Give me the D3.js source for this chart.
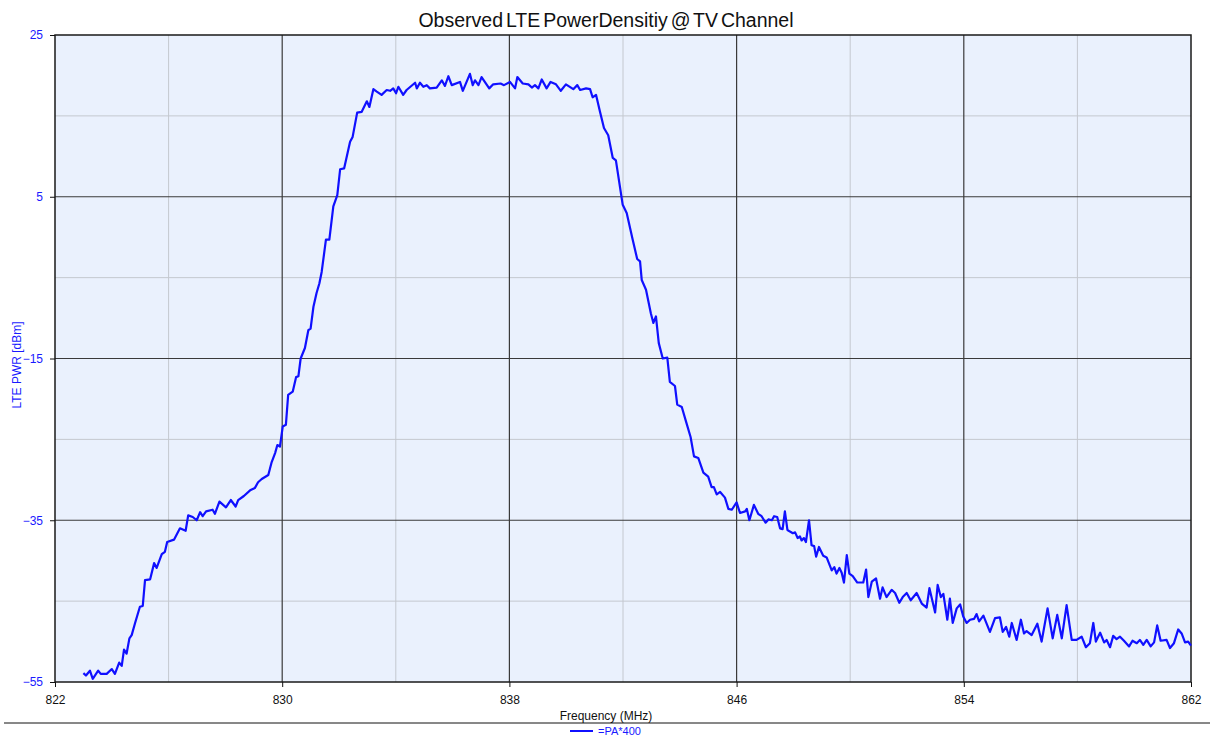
<!DOCTYPE html>
<html>
<head>
<meta charset="utf-8">
<script src="https://cdn.jsdelivr.net/npm/d3@7"></script>
<style>
  html, body { margin: 0; padding: 0; background: #fff; }
  svg { display: block; font-family: "Liberation Sans", Arial, sans-serif; }
</style>
</head>
<body>
<svg id="chart" width="1210" height="736"></svg>
<script>
const title = "Observed LTE PowerDensitiy @ TV Channel";
const xLabel = "Frequency (MHz)";
const yLabel = "LTE PWR [dBm]";
const seriesName = "=PA*400";
const xTicks = [822, 830, 838, 846, 854, 862];
const xMinorTicks = [826, 834, 842, 850, 858];
const yTicks = [25, 5, -15, -35, -55];
const yMinorTicks = [15, -5, -25, -45];

const freq = [
823.00,823.09,823.23,823.33,823.52,823.61,823.82,824.00,824.11,824.26,824.35,824.43,824.52,824.62,824.70,824.82,824.99,825.09,825.17,825.35,
825.49,825.58,825.76,825.87,825.95,826.19,826.40,826.60,826.69,826.85,826.99,827.11,827.20,827.32,827.55,827.63,827.79,828.02,828.19,828.36,
828.45,828.65,828.87,829.04,829.15,829.28,829.51,829.63,829.75,829.83,829.92,830.02,830.13,830.21,830.37,830.49,830.57,830.65,830.80,830.92,
831.00,831.10,831.21,831.31,831.39,831.54,831.66,831.80,831.94,832.04,832.18,832.39,832.48,832.64,832.80,832.98,833.07,833.21,833.33,833.50,
833.68,833.80,833.91,834.01,834.09,834.26,834.38,834.68,834.74,834.85,834.97,835.09,835.20,835.44,835.62,835.73,835.85,835.97,836.26,836.36,
836.61,836.71,836.79,836.91,837.02,837.29,837.43,837.69,837.81,838.02,838.20,838.28,838.47,838.67,838.79,838.90,839.02,839.14,839.31,839.45,
839.64,839.81,839.99,840.25,840.39,840.49,840.70,840.84,840.93,841.05,841.19,841.33,841.48,841.64,841.75,841.99,842.13,842.34,842.50,842.60,
842.66,842.81,842.98,843.07,843.16,843.26,843.40,843.56,843.65,843.83,843.91,844.07,844.22,844.38,844.50,844.65,844.83,845.00,845.12,845.20,
845.30,845.42,845.59,845.71,845.83,846.00,846.12,846.30,846.36,846.45,846.61,846.76,846.88,847.02,847.12,847.24,847.32,847.43,847.53,847.62,
847.70,847.79,847.88,847.98,848.06,848.15,848.23,848.29,848.37,848.44,848.55,848.64,848.73,848.80,848.90,849.05,849.17,849.35,849.44,849.52,
849.62,849.70,849.78,849.88,849.97,850.09,850.25,850.46,850.56,850.64,850.76,850.91,851.05,851.14,851.28,851.46,851.58,851.73,851.85,851.99,
852.13,852.34,852.52,852.69,852.79,852.99,853.08,853.19,853.28,853.42,853.51,853.61,853.75,853.87,853.98,854.10,854.22,854.36,854.45,854.54,
854.69,854.92,855.10,855.27,855.37,855.49,855.60,855.69,855.86,856.01,856.12,856.21,856.39,856.59,856.74,856.95,857.13,857.29,857.45,857.62,
857.80,857.97,858.15,858.30,858.44,858.56,858.65,858.80,858.94,859.03,859.15,859.26,859.38,859.50,859.64,859.82,859.94,860.09,860.20,860.32,
860.44,860.58,860.70,860.81,860.93,861.14,861.26,861.40,861.55,861.67,861.79,861.90,862.00
];
const power = [
-53.9,-54.2,-53.6,-54.6,-53.6,-54.0,-54.0,-53.4,-54.0,-52.6,-53.0,-51.0,-51.5,-49.6,-49.2,-47.7,-45.7,-45.6,-42.4,-42.3,
-40.3,-40.9,-39.2,-38.9,-37.7,-37.4,-36.0,-36.3,-34.4,-34.6,-35.0,-34.0,-34.5,-33.9,-33.7,-34.2,-32.7,-33.4,-32.5,-33.3,
-32.5,-32.0,-31.3,-31.0,-30.3,-29.9,-29.4,-27.8,-26.7,-25.7,-25.9,-23.4,-23.2,-19.5,-19.1,-17.3,-17.2,-15.0,-13.7,-11.5,
-11.3,-8.6,-6.9,-5.7,-4.3,-0.3,-0.3,3.8,5.2,8.4,8.5,11.8,12.4,15.4,15.5,16.8,16.1,18.3,18.0,17.6,
18.2,18.1,18.4,17.8,18.6,17.6,18.2,19.1,18.4,19.1,18.6,18.8,18.4,18.5,19.4,18.7,19.9,18.8,19.2,18.1,
20.2,18.8,19.4,18.8,19.8,18.4,18.9,19.0,18.8,19.2,18.4,19.8,19.0,18.9,18.5,18.8,18.4,19.5,18.4,19.2,
18.9,18.1,18.9,18.3,18.8,18.2,18.4,18.3,17.3,17.6,15.5,13.5,12.6,9.8,9.5,4.0,3.0,-0.3,-2.7,-3.0,
-5.3,-6.5,-9.4,-10.6,-9.8,-13.1,-15.0,-14.9,-17.9,-18.4,-20.7,-21.0,-22.8,-24.7,-27.1,-27.3,-29.1,-29.6,-30.9,-30.9,
-31.8,-31.5,-32.2,-33.6,-33.7,-32.8,-34.1,-33.9,-33.6,-35.0,-33.1,-34.2,-34.5,-35.3,-34.9,-35.0,-34.5,-34.6,-36.0,-36.1,
-33.9,-36.2,-36.4,-36.6,-36.5,-37.2,-37.0,-37.5,-37.2,-37.7,-35.0,-38.1,-38.2,-39.5,-38.3,-39.4,-39.6,-41.2,-40.8,-41.6,
-40.9,-41.5,-42.7,-39.3,-41.6,-41.9,-42.7,-42.7,-41.1,-44.5,-42.6,-42.2,-44.7,-43.3,-44.5,-43.6,-44.0,-45.2,-44.5,-44.0,
-44.9,-44.0,-45.3,-45.8,-43.4,-46.4,-43.0,-44.5,-44.1,-47.3,-44.7,-47.7,-45.9,-45.4,-46.9,-47.7,-47.3,-47.2,-46.6,-47.5,
-46.8,-48.8,-47.1,-47.0,-48.8,-48.2,-49.4,-47.7,-49.8,-47.3,-49.0,-48.7,-49.2,-47.8,-50.0,-45.9,-49.6,-46.7,-49.6,-45.5,
-49.8,-49.8,-49.4,-50.7,-50.2,-47.7,-50.0,-48.9,-50.1,-49.8,-50.7,-49.3,-49.7,-49.4,-49.9,-50.6,-49.9,-50.2,-49.8,-50.4,
-49.8,-50.6,-50.1,-48.0,-49.9,-49.8,-50.8,-50.2,-48.5,-49.0,-50.1,-50.0,-50.5
];

const data = freq.map((f, i) => ({ f, v: power[i] }));

const svg = d3.select("#chart");
const pLeft = 55, pRight = 1191, pTop = 35, pBottom = 682;
const x = d3.scaleLinear().domain([822, 862]).range([pLeft, pRight]);
const y = d3.scaleLinear().domain([-55, 25]).range([pBottom, pTop]);
const blue = "#1a1aff";

// background
svg.append("rect").attr("x", pLeft).attr("y", pTop)
  .attr("width", pRight - pLeft).attr("height", pBottom - pTop)
  .attr("fill", "#eaf1fd");

// minor gridlines
svg.append("g").selectAll("line").data(xMinorTicks).join("line")
  .attr("x1", d => x(d)).attr("x2", d => x(d)).attr("y1", pTop).attr("y2", pBottom)
  .attr("stroke", "#c4c8cf").attr("stroke-width", 1);
svg.append("g").selectAll("line").data(yMinorTicks).join("line")
  .attr("y1", d => y(d)).attr("y2", d => y(d)).attr("x1", pLeft).attr("x2", pRight)
  .attr("stroke", "#c4c8cf").attr("stroke-width", 1);

// major gridlines
svg.append("g").selectAll("line").data(xTicks.slice(1, -1)).join("line")
  .attr("x1", d => x(d)).attr("x2", d => x(d)).attr("y1", pTop).attr("y2", pBottom)
  .attr("stroke", "#3a3a3a").attr("stroke-width", 1.2);
svg.append("g").selectAll("line").data(yTicks.slice(1, -1)).join("line")
  .attr("y1", d => y(d)).attr("y2", d => y(d)).attr("x1", pLeft).attr("x2", pRight)
  .attr("stroke", "#3a3a3a").attr("stroke-width", 1.2);

// border
svg.append("rect").attr("x", pLeft).attr("y", pTop)
  .attr("width", pRight - pLeft).attr("height", pBottom - pTop)
  .attr("fill", "none").attr("stroke", "#1a1a1a").attr("stroke-width", 1.5);

// axes
const xAxis = d3.axisBottom(x).tickValues(xTicks).tickSize(5).tickPadding(8).tickFormat(d3.format("d"));
const gx = svg.append("g").attr("transform", `translate(0,${pBottom})`).call(xAxis);
gx.select(".domain").remove();
gx.selectAll(".tick line").attr("stroke", "#111");
gx.selectAll(".tick text").attr("fill", "#111").style("font-size", "12px")
  .style("font-family", "'Liberation Sans', Arial, sans-serif");

const yAxis = d3.axisLeft(y).tickValues(yTicks).tickSize(5).tickPadding(7).tickFormat(d3.format("d"));
const gy = svg.append("g").attr("transform", `translate(${pLeft},0)`).call(yAxis);
gy.select(".domain").remove();
gy.selectAll(".tick line").attr("stroke", "#111");
gy.selectAll(".tick text").attr("fill", blue).style("font-size", "12px")
  .style("font-family", "'Liberation Sans', Arial, sans-serif");

// series line
svg.append("path").datum(data)
  .attr("fill", "none").attr("stroke", "#1010ff").attr("stroke-width", 2.2)
  .attr("stroke-linejoin", "round")
  .attr("d", d3.line().x(d => x(d.f)).y(d => y(d.v)));

// title
svg.append("text").attr("x", 606).attr("y", 27).attr("text-anchor", "middle")
  .style("font-size", "19.5px").style("word-spacing", "-2.5px").attr("fill", "#111").text(title);

// x label
svg.append("text").attr("x", 606).attr("y", 720).attr("text-anchor", "middle")
  .style("font-size", "12px").attr("fill", "#111").text(xLabel);

// y label
svg.append("text").attr("transform", "translate(21,365) rotate(-90)")
  .attr("text-anchor", "middle").style("font-size", "12px").attr("fill", blue).text(yLabel);

// separator line
svg.append("line").attr("x1", 4).attr("x2", 1210).attr("y1", 723).attr("y2", 723)
  .attr("stroke", "#111").attr("stroke-width", 1);

// legend
svg.append("line").attr("x1", 570).attr("x2", 593).attr("y1", 731).attr("y2", 731)
  .attr("stroke", "#1010ff").attr("stroke-width", 2);
svg.append("text").attr("x", 598).attr("y", 735).style("font-size", "11px")
  .attr("fill", blue).text(seriesName);
</script>
</body>
</html>
